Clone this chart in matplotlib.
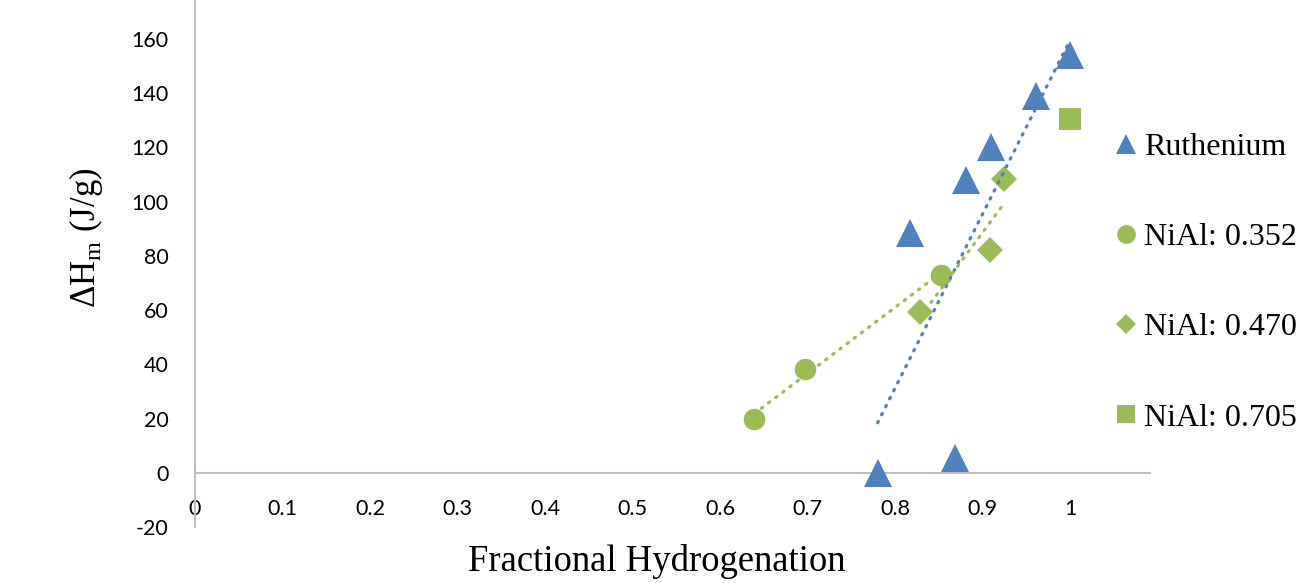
import numpy as np
import matplotlib
matplotlib.use("Agg")
import matplotlib.pyplot as plt
from matplotlib.lines import Line2D

plt.rcParams['axes.unicode_minus'] = False

# data
ru_x = [0.780, 0.868, 0.817, 0.881, 0.910, 0.961, 1.000]
ru_y = [0.0, 5.5, 88.5, 108.0, 120.0, 139.0, 154.0]

n352_x = [0.639, 0.697, 0.852]
n352_y = [20.0, 38.4, 73.0]

n470_x = [0.829, 0.909, 0.925]
n470_y = [59.3, 82.0, 108.4]

n705_x = [1.000]
n705_y = [130.5]

xticks = [0, 0.1, 0.2, 0.3, 0.4, 0.5, 0.6, 0.7, 0.8, 0.9, 1]
yticks = [-20, 0, 20, 40, 60, 80, 100, 120, 140, 160]

blue = '#4F81BD'
green = '#9BBB59'
axis_grey = '#BFBFBF'

fig = plt.figure(figsize=(12.98, 5.83), dpi=100)
ax = fig.add_axes([0.1502, 0.0961, 0.7356, 0.9039])

ax.plot(ru_x, ru_y, '^', color=blue, ms=20, mew=0, ls='none', zorder=3)
ax.plot(n352_x, n352_y, 'o', color=green, ms=15.5, mew=0, ls='none', zorder=3)
ax.plot(n470_x, n470_y, 'D', color=green, ms=13, mew=0, ls='none', zorder=3)
ax.plot(n705_x, n705_y, 's', color=green, ms=16, mew=0, ls='none', zorder=3)

# linear trendlines (dotted), over the data range
def trend(xs, ys, col):
    k, b = np.polyfit(xs, ys, 1)
    xx = np.array([min(xs), max(xs)])
    ax.plot(xx, k * xx + b, color=col, lw=2.3, ls=(0, (0.5, 2.3)),
            dash_capstyle='round', zorder=4)

trend(ru_x, ru_y, blue)
trend(n352_x, n352_y, green)
trend(n470_x, n470_y, green)

ax.set_xlim(0, 1.091)
ax.set_ylim(-20, 174.4)
ax.set_xticks(xticks)
ax.set_xticklabels(['0', '0.1', '0.2', '0.3', '0.4', '0.5', '0.6', '0.7', '0.8', '0.9', '1'])
ax.set_yticks(yticks)

for s in ['top', 'right']:
    ax.spines[s].set_visible(False)
ax.spines['bottom'].set_position(('data', 0))
ax.spines['bottom'].set_color(axis_grey)
ax.spines['left'].set_color(axis_grey)
ax.spines['bottom'].set_linewidth(1.5)
ax.spines['left'].set_linewidth(1.5)
ax.tick_params(axis='both', length=0, labelsize=15.5)
ax.tick_params(axis='x', pad=19)
ax.tick_params(axis='y', pad=19)
for lab in ax.get_xticklabels() + ax.get_yticklabels():
    lab.set_family('Lato')

ax.set_xlabel('Fractional Hydrogenation', family='Liberation Serif', fontsize=26.4,
              va='center')
ax.xaxis.set_label_coords(0.484, -0.066)
ax.set_ylabel(r'ΔH$_\mathregular{m}$ (J/g)', family='Liberation Serif', fontsize=25)
ax.yaxis.set_label_coords(-0.094, 0.548)

handles = [
    Line2D([], [], marker='^', color=blue, ms=14, mew=0, ls='none'),
    Line2D([], [], marker='o', color=green, ms=13.5, mew=0, ls='none'),
    Line2D([], [], marker='D', color=green, ms=9.8, mew=0, ls='none'),
    Line2D([], [], marker='s', color=green, ms=13, mew=0, ls='none'),
]
labels = ['Ruthenium', 'NiAl: 0.352', 'NiAl: 0.470', 'NiAl: 0.705']
fig.legend(handles, labels, loc='center left', bbox_to_anchor=(0.858, 0.515),
           frameon=False, prop={'family': 'Liberation Serif', 'size': 23},
           handlelength=0.75, handletextpad=0.2, labelspacing=1.9,
           borderpad=0, borderaxespad=0)

fig.savefig('out.png', dpi=100)
